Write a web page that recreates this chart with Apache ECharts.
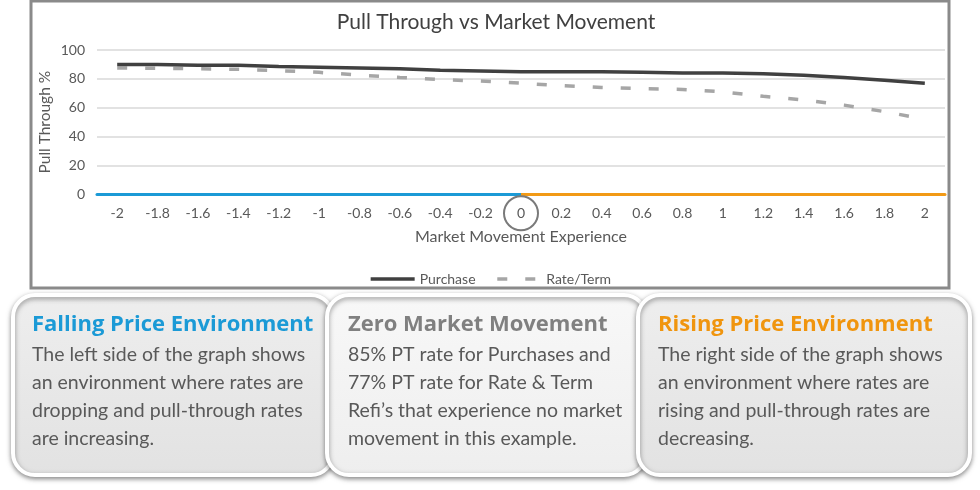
<!DOCTYPE html>
<html>
<head>
<meta charset="utf-8">
<script src="https://cdn.jsdelivr.net/npm/echarts@6/dist/echarts.min.js"></script>
<style>
html,body{margin:0;padding:0;background:#fff;}
#chart{width:980px;height:490px;}
</style>
</head>
<body>
<div id="chart"></div>
<script>
var categories = ['-2','-1.8','-1.6','-1.4','-1.2','-1','-0.8','-0.6','-0.4','-0.2','0','0.2','0.4','0.6','0.8','1','1.2','1.4','1.6','1.8','2'];
var purchase = [90, 90, 89.5, 89.5, 88.5, 88, 87.5, 87, 86, 85.5, 85, 85, 85, 84.5, 84, 84, 83.5, 82.5, 81, 79, 77];
var rateTerm = [87.5, 87.3, 87, 86.6, 85.7, 84.5, 82.6, 81, 79.5, 78.5, 77, 75.3, 74, 73.2, 72.7, 71, 67.9, 65.4, 61.8, 57.3, 52];
var yTicks = [0, 20, 40, 60, 80, 100];

var chartTitle = 'Pull Through vs Market Movement';
var xName = 'Market Movement Experience';
var yName = 'Pull Through %';
var boxTitles = ['Falling Price Environment', 'Zero Market Movement', 'Rising Price Environment'];
var boxBodies = [
  'The left side of the graph shows\nan environment where rates are\ndropping and pull-through rates\nare increasing.',
  '85% PT rate for Purchases and\n77% PT rate for Rate & Term\nRefi\u2019s that experience no market\nmovement in this example.',
  'The right side of the graph shows\nan environment where rates are\nrising and pull-through rates are\ndecreasing.'
];

var chart = echarts.init(document.getElementById('chart'), null, {renderer:'canvas'});
var BLUE = '#1b9ad6', ORANGE = '#f29a16';
var baseFont = 'Lato';

chart.setOption({
  animation: false,
  backgroundColor: '#ffffff',
  title: {
    text: chartTitle, left: 491, top: 7, textAlign: 'center',
    textStyle: {fontSize: 21, fontWeight: 'normal', color: '#404040', fontFamily: baseFont}
  },
  legend: {
    top: 267, left: 'center', itemWidth: 44, itemHeight: 10, itemGap: 20,
    textStyle: {fontSize: 14, color: '#595959', fontFamily: baseFont},
    itemStyle: {color: 'rgba(0,0,0,0)', borderWidth: 0, opacity: 0},
    lineStyle: {width: 3.5},
    data: ['Purchase', 'Rate/Term']
  },
  grid: {left: 97, right: 35, top: 50, height: 144.3, containLabel: false},
  xAxis: {
    type: 'category', data: categories, boundaryGap: true, offset: 4,
    name: xName, nameLocation: 'middle', nameGap: 31,
    nameTextStyle: {fontSize: 16, color: '#595959', fontFamily: baseFont},
    axisLine: {show: true, lineStyle: {width: 3, color: new echarts.graphic.LinearGradient(0,0,1,0,[
      {offset:0, color: BLUE},{offset:0.5, color: BLUE},{offset:0.5, color: ORANGE},{offset:1, color: ORANGE}])}},
    axisTick: {show: false},
    axisLabel: {fontSize: 14, color: '#595959', margin: 8, fontFamily: baseFont}
  },
  yAxis: {
    type: 'value', min: 0, max: 100, interval: 20,
    name: yName, nameLocation: 'middle', nameGap: 44, nameRotate: 90, nameMoveOverlap: false,
    nameTextStyle: {fontSize: 15.5, color: '#595959', fontFamily: baseFont},
    axisLine: {show: false}, axisTick: {show: false},
    axisLabel: {fontSize: 14, color: '#595959', margin: 12, fontFamily: baseFont,
      formatter: function(v){ return yTicks.indexOf(v) >= 0 ? String(v) : ''; }},
    splitLine: {lineStyle: {color: '#d9d9d9', width: 1.5}}
  },
  series: [
    {name: 'Purchase', type: 'line', data: purchase, symbol: 'none', z: 3,
     lineStyle: {color: '#404040', width: 3.5}, itemStyle: {color: '#404040'}},
    {name: 'Rate/Term', type: 'line', data: rateTerm, symbol: 'none', z: 2,
     lineStyle: {color: '#a6a6a6', width: 3.5, type: [10, 18]}, itemStyle: {color: '#a6a6a6'}}
  ]
});

var zeroX = chart.convertToPixel({xAxisIndex: 0}, '0');
var zeroY = chart.convertToPixel({yAxisIndex: 0}, 0);

var boxes = [
  {x: 13, w: 320, fillTop: '#eeeeee', fillBot: '#e2e2e2', titleColor: BLUE, tx: 32},
  {x: 327, w: 319, fillTop: '#f8f8f8', fillBot: '#eeeeee', titleColor: '#808080', tx: 348},
  {x: 638, w: 332, fillTop: '#eeeeee', fillBot: '#e2e2e2', titleColor: '#f0950e', tx: 658}
];
var graphics = [
  {type: 'rect', shape: {x: 31, y: 1, width: 918, height: 287}, z: -1,
   style: {fill: 'none', stroke: '#8a8a8a', lineWidth: 3}},
  {type: 'circle', shape: {cx: zeroX, cy: zeroY + 19, r: 17}, z: 10,
   style: {fill: 'none', stroke: '#7a7a7a', lineWidth: 2}}
];
boxes.forEach(function(b, i){
  graphics.push({type: 'rect', z: 20 + i*3,
    shape: {x: b.x, y: 295, width: b.w, height: 180, r: 22},
    style: {fill: new echarts.graphic.LinearGradient(0,0,0,1,[{offset:0,color:b.fillTop},{offset:1,color:b.fillBot}]),
      stroke: '#ffffff', lineWidth: 4, shadowBlur: 5, shadowColor: 'rgba(0,0,0,0.4)', shadowOffsetY: 2}});
  graphics.push({type: 'text', z: 21 + i*3, x: b.tx, y: 325,
    style: {text: boxTitles[i], fill: b.titleColor, font: 'bold 22px "Open Sans", sans-serif', verticalAlign: 'middle'}});
  graphics.push({type: 'text', z: 21 + i*3, x: b.tx, y: 341,
    style: {text: boxBodies[i], fill: '#595959', font: '19.5px Lato, sans-serif', lineHeight: 28, verticalAlign: 'top'}});
});
chart.setOption({graphic: graphics});
</script>
</body>
</html>
